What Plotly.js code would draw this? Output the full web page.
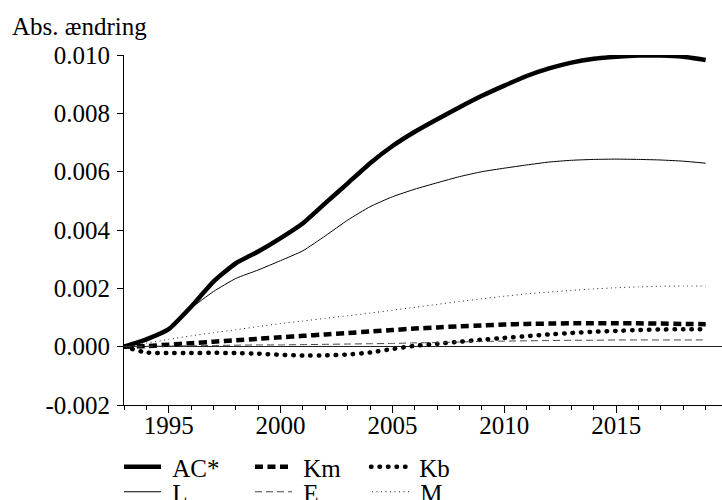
<!DOCTYPE html>
<html><head><meta charset="utf-8">
<script src="https://cdn.plot.ly/plotly-3.0.1.min.js"></script>
<style>
html,body{margin:0;padding:0;background:#fff;}
#chart{width:722px;height:500px;}
g.legend3 path.js-line{stroke-linecap:round;}
</style></head><body><div id="chart"></div>
<script>
const years = [1993,1994,1995,1996,1997,1998,1999,2000,2001,2002,2003,2004,2005,2006,2007,2008,2009,2010,2011,2012,2013,2014,2015,2016,2017,2018,2019];
const acStar = [0,0.00025,0.0006,0.00137,0.00223,0.00286,0.00326,0.00372,0.00423,0.00492,0.0056,0.00629,0.00688,0.00737,0.0078,0.00821,0.0086,0.00895,0.00928,0.00954,0.00974,0.00987,0.00994,0.00998,0.00998,0.00994,0.00983];
const seriesL = [0,0.00025,0.0006,0.00132,0.00189,0.00234,0.00263,0.00295,0.00329,0.0038,0.00434,0.0048,0.00514,0.0054,0.00562,0.00583,0.006,0.00612,0.00623,0.00633,0.00639,0.00642,0.00643,0.00642,0.0064,0.00636,0.00629];
const seriesKm = [0,0.00002,0.00007,0.00012,0.00017,0.00022,0.00027,0.00032,0.00037,0.00042,0.00047,0.00052,0.00057,0.00062,0.00066,0.0007,0.00073,0.00076,0.00078,0.00079,0.0008,0.0008,0.0008,0.0008,0.00079,0.00078,0.00077];
const seriesE = [0,0.00001,0.00002,0.00003,0.00004,0.00005,0.00006,0.00006,0.00007,0.00008,0.00009,0.0001,0.00011,0.00013,0.00014,0.00016,0.00018,0.00019,0.0002,0.00021,0.00022,0.00022,0.00023,0.00023,0.00023,0.00023,0.00023];
const seriesKb = [0,-0.0002,-0.00022,-0.00022,-0.00021,-0.00022,-0.00024,-0.00028,-0.0003,-0.0003,-0.00027,-0.0002,-0.00008,0.00003,0.0001,0.00017,0.00024,0.0003,0.00036,0.00042,0.00047,0.00051,0.00054,0.00057,0.00059,0.0006,0.0006];
const seriesM = [0,0.00012,0.00025,0.00037,0.00048,0.00058,0.00069,0.00079,0.00088,0.00097,0.00106,0.00115,0.00125,0.00135,0.00145,0.00155,0.00164,0.00173,0.00181,0.00187,0.00193,0.00198,0.00202,0.00205,0.00207,0.00208,0.00208];
const seriesNames = ['AC*','Km','Kb','L','E','M'];
const xTickVals = [1995,2000,2005,2010,2015];
const xTickText = ['1995','2000','2005','2010','2015'];
const yTickVals = [-0.002,0,0.002,0.004,0.006,0.008,0.010];
const yTickText = ['-0.002','0.000','0.002','0.004','0.006','0.008','0.010'];
const yTitle = 'Abs. ændring';

const FONT = '"Liberation Serif", "Times New Roman", Times, "DejaVu Serif", serif';
const FS = 25;
const NB = '\u00a0';
function tr(y, name, width, dash, color, legendId) {
  return {x: years, y: y, name: NB + name, type: 'scatter', mode: 'lines',
    line: {color: color, width: width, dash: dash, shape: 'spline', smoothing: 0.5},
    legend: legendId, hoverinfo: 'skip'};
}
const data = [
  tr(acStar, seriesNames[0], 4.5, 'solid', '#000', 'legend'),
  tr(seriesKm, seriesNames[1], 4.5, '8px,4.5px', '#000', 'legend2'),
  tr(seriesKb, seriesNames[2], 4.5, '0.5px,8px', '#000', 'legend3'),
  tr(seriesL, seriesNames[3], 1, 'solid', '#000', 'legend4'),
  tr(seriesE, seriesNames[4], 1, '7px,4px', '#444', 'legend5'),
  tr(seriesM, seriesNames[5], 1, '1px,3.5px', '#222', 'legend6')
];
function leg(xpx, ypx) {
  return {xref: 'container', yref: 'container', x: xpx / 722, y: 1 - ypx / 500,
    xanchor: 'left', yanchor: 'middle', bgcolor: 'rgba(0,0,0,0)', borderwidth: 0,
    itemwidth: 37, font: {family: FONT, size: FS, color: '#000'}, orientation: 'h'};
}
const layout = {
  width: 722, height: 500,
  margin: {l: 124, r: 0, t: 55, b: 95, pad: 0},
  paper_bgcolor: '#fff', plot_bgcolor: '#fff',
  font: {family: FONT, size: FS, color: '#000'},
  showlegend: true,
  xaxis: {range: [1993, 2019.73], tickmode: 'array', tickvals: xTickVals, ticktext: xTickText,
    ticks: 'outside', ticklen: 7, tickwidth: 1, tickcolor: '#000', ticklabelstandoff: -9,
    showline: true, linecolor: '#000', linewidth: 1, showgrid: false, zeroline: false,
    minor: {tickmode: 'linear', tick0: 1993, dtick: 1, ticks: 'outside', ticklen: 4, tickcolor: '#000', showgrid: false},
    tickfont: {family: FONT, size: FS, color: '#000'}},
  yaxis: {range: [-0.002, 0.010], tickmode: 'array', tickvals: yTickVals, ticktext: yTickText,
    ticks: 'outside', ticklen: 6, tickwidth: 1, tickcolor: '#000', ticklabelstandoff: 2,
    showline: true, linecolor: '#000', linewidth: 1, showgrid: false,
    zeroline: true, zerolinecolor: '#222', zerolinewidth: 1,
    tickfont: {family: FONT, size: FS, color: '#000'}},
  legend: leg(119, 467), legend2: leg(250, 467), legend3: leg(366, 467),
  legend4: leg(119, 492), legend5: leg(250, 492), legend6: leg(367, 492),
  annotations: [{text: yTitle, xref: 'paper', yref: 'paper', x: -114 / 598, y: 1 + (55 - 27) / 350,
    xanchor: 'left', yanchor: 'middle', showarrow: false, font: {family: FONT, size: FS, color: '#000'}}]
};
function roundKb(gd) {
  const traces = gd.querySelectorAll('.scatterlayer .trace');
  if (traces[2]) traces[2].querySelectorAll('path.js-line').forEach(p => { p.style.strokeLinecap = 'round'; });
  gd.querySelectorAll('.legendtext').forEach(function(t) {
    if (t.textContent.indexOf('Kb') >= 0) {
      t.parentNode.querySelectorAll('path').forEach(p => { p.style.strokeLinecap = 'round'; });
    }
  });
}
Plotly.newPlot('chart', data, layout, {displayModeBar: false, staticPlot: true}).then(function(gd) {
  roundKb(gd);
  setTimeout(function() { roundKb(gd); }, 50);
});
</script></body></html>
